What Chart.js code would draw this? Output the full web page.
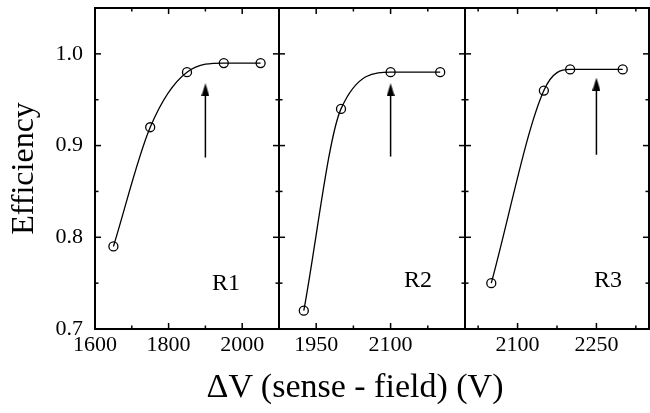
<!DOCTYPE html>
<html>
<head>
<meta charset="utf-8">
<script src="https://cdn.jsdelivr.net/npm/chart.js@4.4.0/dist/chart.umd.min.js"></script>
<style>
  html, body { margin: 0; padding: 0; background: #fff; }
  #wrap { position: relative; width: 650px; height: 413px; overflow: hidden; }
  #wrap canvas { position: absolute; left: 0; top: 0; }
  #xtitle {
    position: absolute; left: 100px; width: 510px; top: 367px; line-height: 40px;
    text-align: center; font: 34px "Liberation Serif", "Times New Roman", serif; color: #000;
  }
</style>
</head>
<body>
<div id="wrap">
  <canvas id="r1" width="650" height="413"></canvas>
  <canvas id="r2" width="650" height="413"></canvas>
  <canvas id="r3" width="650" height="413"></canvas>
  <div id="xtitle">ΔV (sense - field) (V)</div>
</div>
<script>
// ── Data ──────────────────────────────────────────────────────────────────────

const r1Volts = [1650, 1750, 1850, 1950, 2050];
const r1Eff   = [0.79, 0.92, 0.98, 0.99, 0.99];
const r2Volts = [1925, 2000, 2100, 2200];
const r2Eff   = [0.72, 0.94, 0.98, 0.98];
const r3Volts = [2050, 2150, 2200, 2300];
const r3Eff   = [0.75, 0.96, 0.983, 0.983];

// operating point arrows, one per chamber
const arrowVolts = [1900, 2100, 2250];
const arrowFrom  = [0.887, 0.888, 0.890];
const arrowTo    = [0.961, 0.961, 0.967];

const r1Ticks  = [1600, 1700, 1800, 1900, 2000, 2100];
const r1Labels = [1600, 1800, 2000];
const r2Ticks  = [1875, 1950, 2025, 2100, 2175, 2250];
const r2Labels = [1950, 2100];
const r3Ticks  = [2000, 2025, 2100, 2175, 2250, 2325, 2350];
const r3Labels = [2100, 2250];

const effTicks  = [0.7, 0.75, 0.8, 0.85, 0.9, 0.95, 1.0, 1.05];
const effLabels = [0.7, 0.8, 0.9, 1.0];

// ── Styling ───────────────────────────────────────────────────────────────────

const SERIF = '"Liberation Serif", "Times New Roman", serif';
const INK = "#000";

// narrow filled arrow head used as a point style
const arrowHead = document.createElement("canvas");
arrowHead.width = 8;
arrowHead.height = 13;
(() => {
  const c = arrowHead.getContext("2d");
  c.fillStyle = INK;
  c.beginPath();
  c.moveTo(4, 0);
  c.lineTo(8, 13);
  c.lineTo(0, 13);
  c.closePath();
  c.fill();
})();

// frame, inward tick marks and the chamber tag
const panelFrame = {
  id: "panelFrame",
  afterDraw(chart, args, opts) {
    const { ctx, chartArea: a, scales: { x, y } } = chart;
    const seg = (x1, y1, x2, y2) => { ctx.beginPath(); ctx.moveTo(x1, y1); ctx.lineTo(x2, y2); ctx.stroke(); };
    ctx.save();
    ctx.strokeStyle = INK;
    ctx.lineWidth = 1.5;

    opts.xTicks.forEach(v => {
      if (v <= x.min || v >= x.max) return;
      const px = x.getPixelForValue(v);
      const len = opts.xLabels.includes(v) ? 6 : 3.5;
      seg(px, a.bottom, px, a.bottom - len);
      seg(px, a.top, px, a.top + len);
    });
    effTicks.forEach(v => {
      if (v <= y.min || v >= y.max) return;
      const py = y.getPixelForValue(v);
      const len = effLabels.includes(v) ? 6 : 3.5;
      seg(a.left, py, a.left + len, py);
      seg(a.right, py, a.right - len, py);
    });

    ctx.lineWidth = 2;
    ctx.strokeRect(a.left, a.top, a.width, a.height);

    ctx.fillStyle = INK;
    ctx.font = `24px ${SERIF}`;
    ctx.textAlign = "right";
    ctx.textBaseline = "middle";
    ctx.fillText(opts.tag, a.right - opts.tagRight, a.bottom - opts.tagUp);
    ctx.restore();
  },
};

// ── Panels ────────────────────────────────────────────────────────────────────

function makePanel(id, p) {
  const showY = p.index === 0;
  return new Chart(document.getElementById(id), {
    type: "line",
    data: {
      datasets: [
        {
          data: p.volts.map((v, i) => ({ x: v, y: p.eff[i] })),
          borderColor: INK,
          borderWidth: 1.3,
          cubicInterpolationMode: "monotone",
          pointRadius: 4.5,
          pointBorderWidth: 1.3,
          pointBorderColor: INK,
          pointBackgroundColor: "rgba(0,0,0,0)",
          fill: false,
        },
        {
          data: [
            { x: arrowVolts[p.index], y: arrowFrom[p.index] },
            { x: arrowVolts[p.index], y: arrowTo[p.index] },
          ],
          borderColor: INK,
          borderWidth: 1.5,
          pointStyle: arrowHead,
          pointRadius: [0, 6],
          fill: false,
        },
      ],
    },
    options: {
      responsive: false,
      animation: false,
      devicePixelRatio: 1,
      layout: {
        autoPadding: false,
        padding: { left: p.padLeft, right: p.padRight, top: 8, bottom: 0 },
      },
      plugins: {
        legend: { display: false },
        tooltip: { enabled: false },
        panelFrame: { xTicks: p.ticks, xLabels: p.labels, tag: p.tag, tagRight: p.tagRight, tagUp: p.tagUp },
      },
      scales: {
        x: {
          type: "linear",
          min: p.ticks[0],
          max: p.ticks[p.ticks.length - 1],
          grid: { display: false, drawTicks: false },
          border: { display: false },
          afterBuildTicks: s => { s.ticks = p.ticks.map(v => ({ value: v })); },
          afterFit: s => { s.height = 84; s.paddingLeft = 0; s.paddingRight = 0; },
          ticks: {
            padding: 3,
            color: INK,
            font: { family: SERIF, size: 22 },
            maxRotation: 0,
            autoSkip: false,
            callback: v => (p.labels.includes(v) ? String(v) : ""),
          },
        },
        y: {
          type: "linear",
          min: 0.7,
          max: 1.05,
          display: showY,
          grid: { display: false, drawTicks: false },
          border: { display: false },
          afterBuildTicks: s => { s.ticks = effTicks.map(v => ({ value: v })); },
          afterFit: s => {
            s.width = showY ? 95 : 0;
            s.paddingTop = 0;
            s.paddingBottom = 0;
          },
          ticks: {
            padding: 12,
            color: INK,
            font: { family: SERIF, size: 22 },
            autoSkip: false,
            callback: v => (effLabels.includes(v) ? v.toFixed(1) : ""),
          },
          title: {
            display: showY,
            text: "Efficiency",
            color: INK,
            font: { family: SERIF, size: 32 },
            padding: { top: 5, bottom: 0 },
          },
        },
      },
    },
    plugins: [panelFrame],
  });
}

makePanel("r1", { index: 0, volts: r1Volts, eff: r1Eff, ticks: r1Ticks, labels: r1Labels,
  padLeft: 0, padRight: 371, tag: "R1", tagRight: 39, tagUp: 45 });
makePanel("r2", { index: 1, volts: r2Volts, eff: r2Eff, ticks: r2Ticks, labels: r2Labels,
  padLeft: 279, padRight: 185, tag: "R2", tagRight: 33, tagUp: 48 });
makePanel("r3", { index: 2, volts: r3Volts, eff: r3Eff, ticks: r3Ticks, labels: r3Labels,
  padLeft: 465, padRight: 1, tag: "R3", tagRight: 27, tagUp: 48 });
</script>
</body>
</html>
